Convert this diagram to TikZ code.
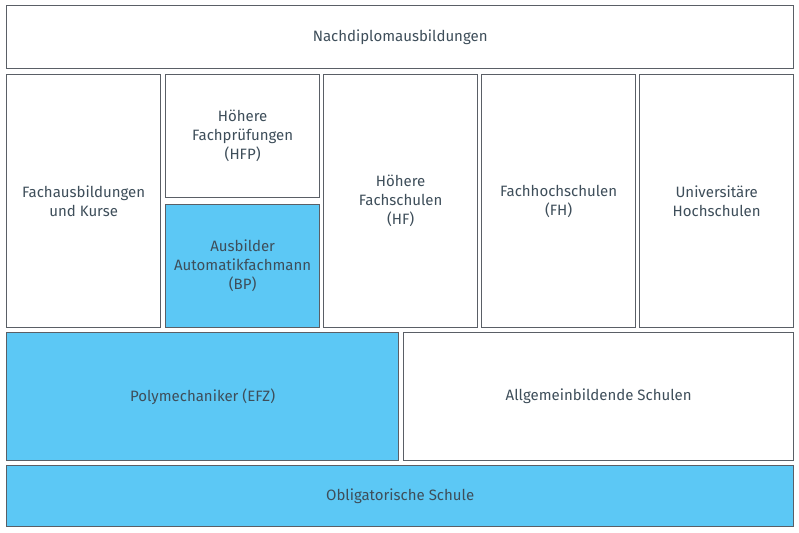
\documentclass[tikz,border=0pt]{standalone}
\usepackage{fontspec}
\setmainfont{Fira Sans}
\definecolor{boxline}{HTML}{5A5F66}
\definecolor{boxtext}{HTML}{3E4E5A}
\definecolor{boxblue}{HTML}{5CC8F5}
\tikzset{level box/.style={draw=boxline,line width=1.3pt,fill=white,anchor=north west,inner sep=0pt,
    align=center,text=boxtext,font=\fontsize{15}{19}\selectfont},
  blue box/.style={level box,fill=boxblue},
}
\newcommand{\lbox}[7][level box]{% style, name, x, y, w, h, text
  \node[#1,minimum width=#5pt,minimum height=#6pt] (#2) at (#3pt,-#4pt) {#7};}
\begin{document}
\begin{tikzpicture}
\useasboundingbox (0,0) rectangle (799pt,-532pt);
				\lbox{nds}{6}{5}{787}{63}{Nachdiplomausbildungen}
				\lbox{fak}{6}{74}{154}{253}{Fachausbildungen\\und Kurse}
				\lbox{hfp}{165}{74}{154}{123}{Höhere\\Fachprüfungen\\(HFP)}
				\lbox[blue box]{bp}{165}{204}{154}{123}{Ausbilder\\Automatikfachmann\\(BP)}
				\lbox{hf}{323}{74}{154}{253}{Höhere\\Fachschulen\\(HF)}
				\lbox{fh}{481}{74}{154}{253}{Fachhochschulen\\(FH)}
				\lbox{uni}{639}{74}{154}{253}{Universitäre\\Hochschulen}
				\lbox[blue box]{efz}{6}{332}{392}{128}{Polymechaniker (EFZ)}
				\lbox{abs}{403}{332}{390}{128}{Allgemeinbildende Schulen}
				\lbox[blue box]{obl}{6}{465}{787}{61}{Obligatorische Schule}
\end{tikzpicture}
\end{document}
